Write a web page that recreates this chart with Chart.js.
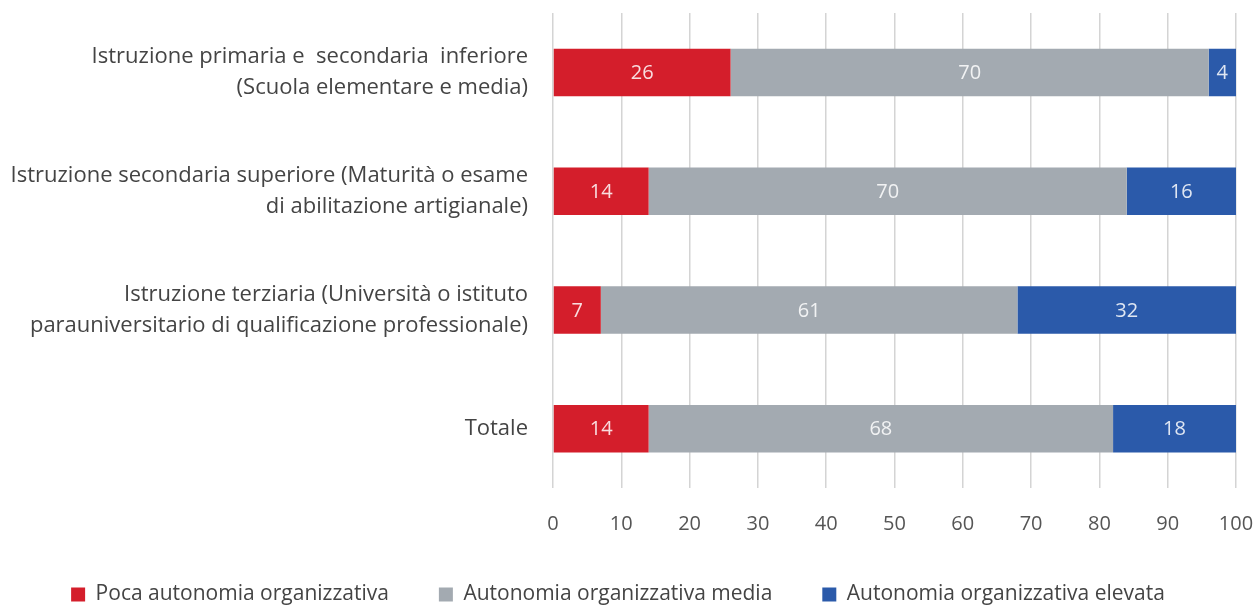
<!DOCTYPE html>
<html><head><meta charset="utf-8">
<script src="https://cdn.jsdelivr.net/npm/chart.js@4/dist/chart.umd.min.js"></script>
<style>html,body{margin:0;padding:0;background:#fff}#wrap{width:1258px;height:605px}</style>
</head><body><div id="wrap"><canvas id="c"></canvas></div>
<script>
const categories = [
  ["Istruzione primaria e  secondaria  inferiore", "(Scuola elementare e media)"],
  ["Istruzione secondaria superiore (Maturità o esame", "di abilitazione artigianale)"],
  ["Istruzione terziaria (Università o istituto", "parauniversitario di qualificazione professionale)"],
  "Totale"
];
const seriesNames = ["Poca autonomia organizzativa", "Autonomia organizzativa media", "Autonomia organizzativa elevata"];
const poca = [26, 14, 7, 14];
const media = [70, 70, 61, 68];
const elevata = [4, 16, 32, 18];
const colors = ["#d41e2b", "#a3aab1", "#2b5aaa"];

const FONT = "'Open Sans'";
const labelPlugin = {
  id: 'barLabels',
  afterDatasetsDraw(chart) {
    const ctx = chart.ctx;
    ctx.save();
    ctx.font = "20px " + FONT;
    ctx.fillStyle = "rgba(255,255,255,0.85)";
    ctx.textAlign = "center";
    ctx.textBaseline = "middle";
    chart.data.datasets.forEach((ds, i) => {
      chart.getDatasetMeta(i).data.forEach((bar, j) => {
        const x = (bar.x + bar.base) / 2;
        ctx.fillText(String(ds.data[j]), x, bar.y + 1);
      });
    });
    ctx.restore();
  }
};

new Chart(document.getElementById('c'), {
  type: 'bar',
  data: {
    labels: categories,
    datasets: [
      {label: seriesNames[0], data: poca, backgroundColor: colors[0]},
      {label: seriesNames[1], data: media, backgroundColor: colors[1]},
      {label: seriesNames[2], data: elevata, backgroundColor: colors[2]}
    ]
  },
  options: {
    indexAxis: 'y',
    responsive: true,
    maintainAspectRatio: false,
    animation: false,
    layout: {padding: {top: 13, right: 22, left: 0, bottom: -10}},
    datasets: {bar: {barPercentage: 0.5, categoryPercentage: 0.8, borderWidth: 0}},
    scales: {
      x: {
        stacked: true, min: 0, max: 100,
        ticks: {stepSize: 10, color: "#555", font: {family: FONT, size: 20}, padding: 24},
        grid: {color: "#d4d4d4", lineWidth: 1.5, drawTicks: false},
        border: {display: false},
        afterFit(s) { s.paddingLeft = 0; s.paddingRight = 0; s.height = 46; }
      },
      y: {
        stacked: true,
        ticks: {color: "#444", font: {family: FONT, size: 22, lineHeight: 1.4}, padding: 25},
        grid: {display: false, drawTicks: false},
        border: {display: false},
        afterFit(s) { s.paddingTop = 0; s.paddingBottom = 0; s.width = 553; }
      }
    },
    plugins: {
      legend: {
        position: 'bottom',
        labels: {boxWidth: 14, boxHeight: 14, padding: 50, color: "#444", font: {family: FONT, size: 21}}
      },
      tooltip: {enabled: false}
    }
  },
  plugins: [labelPlugin]
});
</script></body></html>
